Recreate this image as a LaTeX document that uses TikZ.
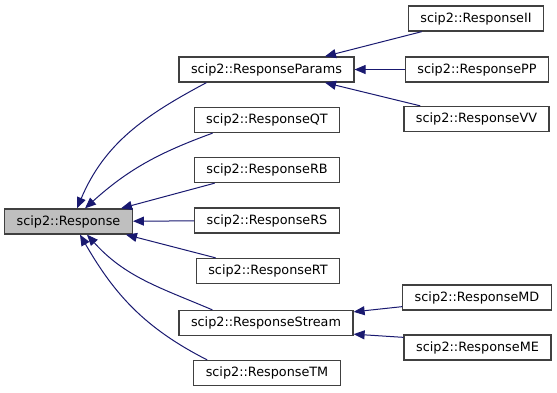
\documentclass[tikz,border=0pt]{standalone}
\usepackage{fontspec}
\setmainfont{DejaVu Sans}
\usetikzlibrary{arrows.meta, positioning}
\definecolor{edgeblue}{HTML}{191970}
\definecolor{basegray}{HTML}{BFBFBF}
\definecolor{framegray}{HTML}{404040}

\begin{document}
\begin{tikzpicture}[
    x=1pt, y=-1pt,
    cls/.style={rectangle, draw=framegray, line width=1.3pt, fill=white, inner xsep=12pt, inner ysep=0pt, text height=9.5pt, text depth=2.5pt, minimum height=25pt, font=\fontsize{12.8}{14}\selectfont},
    base/.style={cls, fill=basegray},
    arrow/.style={edgeblue, line width=1pt, -{Triangle[length=11pt,width=9pt]}}
]
\useasboundingbox (0,0) rectangle (557,392);

\node[base] (resp) at (68.5,221.5) {scip2::Response};
\node[cls] (params) at (266.5,69.5) {scip2::ResponseParams};
\node[cls] (qt) at (267,120) {scip2::ResponseQT};
\node[cls] (rb) at (267,170) {scip2::ResponseRB};
\node[cls] (rs) at (267,220.5) {scip2::ResponseRS};
\node[cls] (rt) at (268,271) {scip2::ResponseRT};
\node[cls] (stream) at (266,323) {scip2::ResponseStream};
\node[cls] (tm) at (267,373) {scip2::ResponseTM};
\node[cls] (ii) at (476,18.5) {scip2::ResponseII};
\node[cls] (pp) at (477,69.5) {scip2::ResponsePP};
\node[cls] (vv) at (476.5,119) {scip2::ResponseVV};
\node[cls] (md) at (477,297.5) {scip2::ResponseMD};
\node[cls] (me) at (477.5,347.5) {scip2::ResponseME};

\draw[arrow] ([xshift=28pt]params.south west) to[out=208, in=67] ([xshift=8.5pt]resp.north);
\draw[arrow] ([xshift=19pt]qt.south west) to[out=200, in=42] ([xshift=16.5pt]resp.north);
\draw[arrow] ([xshift=21pt]rb.south west) -- ([xshift=-12pt]resp.north east);
\draw[arrow] (rs) -- (resp);
\draw[arrow] ([xshift=20pt]rt.north west) -- ([xshift=-7pt]resp.south east);
\draw[arrow] ([xshift=34pt]stream.north west) to[out=157, in=312] ([xshift=18.5pt]resp.south);
\draw[arrow] ([xshift=14pt]tm.north west) to[out=153, in=300] ([xshift=11.5pt]resp.south);

\draw[arrow] ([xshift=14pt]ii.south west) -- ([xshift=58.5pt]params.north);
\draw[arrow] (pp) -- (params);
\draw[arrow] ([xshift=17pt]vv.north west) -- ([xshift=58.5pt]params.south);
\draw[arrow] ([yshift=4pt]md.south west) -- ([yshift=-2pt]stream.north east);
\draw[arrow] ([yshift=-3pt]me.north west) -- ([yshift=2pt]stream.south east);
\end{tikzpicture}
\end{document}
